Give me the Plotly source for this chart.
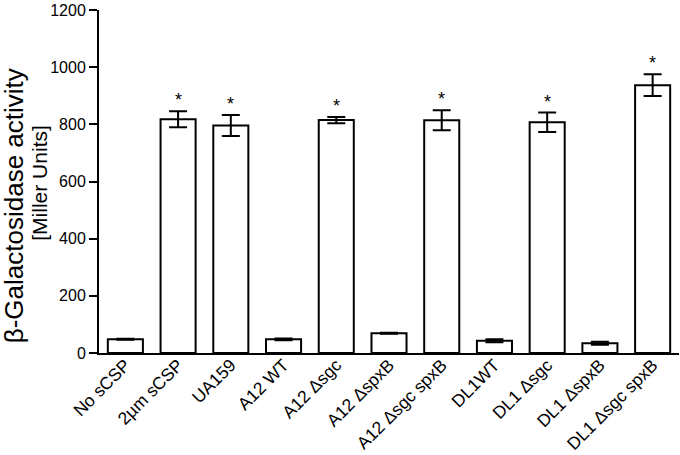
import plotly.graph_objects as go

categories = ["No sCSP", "2µm sCSP", "UA159", "A12 WT", "A12 Δsgc", "A12 ΔspxB",
              "A12 Δsgc spxB", "DL1WT", "DL1 Δsgc", "DL1 ΔspxB", "DL1 Δsgc spxB"]
values = [48, 818, 796, 48, 815, 69, 814, 43, 807, 34, 937]
errors = [2, 28, 37, 3, 11, 2, 35, 5, 34, 5, 38]
significant = [False, True, True, False, True, False, True, False, True, False, True]
y_ticks = [0, 200, 400, 600, 800, 1000, 1200]
y_title_lines = ["β-Galactosidase activity", "[Miller Units]"]

font_family = "Liberation Sans, Arial, sans-serif"

fig = go.Figure()
fig.add_trace(go.Bar(
    x=categories, y=values,
    width=0.665,
    marker=dict(color="white", line=dict(color="black", width=2)),
    error_y=dict(type="data", array=errors, visible=True, color="black", thickness=2, width=9),
))

for c, v, e, s in zip(categories, values, errors, significant):
    if s:
        fig.add_annotation(x=c, y=v + e, text="*", showarrow=False, yanchor="bottom",
                           yshift=-1, font=dict(size=18, color="black", family=font_family))

# y-axis title as two rotated lines
fig.add_annotation(text=y_title_lines[0], xref="paper", yref="paper", x=-0.147, y=0.43,
                   textangle=-90, showarrow=False, xanchor="center", yanchor="middle",
                   font=dict(size=26, color="black", family=font_family))
fig.add_annotation(text=y_title_lines[1], xref="paper", yref="paper", x=-0.102, y=0.496,
                   textangle=-90, showarrow=False, xanchor="center", yanchor="middle",
                   font=dict(size=21, color="black", family=font_family))

fig.update_layout(
    width=680, height=455,
    margin=dict(l=99, r=1, t=10, b=102),
    plot_bgcolor="white", paper_bgcolor="white",
    showlegend=False,
    font=dict(family=font_family, color="black", size=16),
    bargap=0.335,
)
fig.update_xaxes(
    range=[-0.5, 10.5], showline=True, linecolor="black", linewidth=2,
    ticks="", tickangle=-45, tickfont=dict(size=17.5), showgrid=False, automargin=False,
    ticklabelstandoff=-7,
)
fig.update_yaxes(
    range=[0, 1200], tickvals=y_ticks, showline=True, linecolor="black", linewidth=2,
    ticks="outside", ticklen=8, tickwidth=2, tickcolor="black", tickfont=dict(size=16),
    showgrid=False, zeroline=False, automargin=False,
)

fig.write_html("out.html", config={"displayModeBar": False},
               post_script="document.body.style.margin='0';")
